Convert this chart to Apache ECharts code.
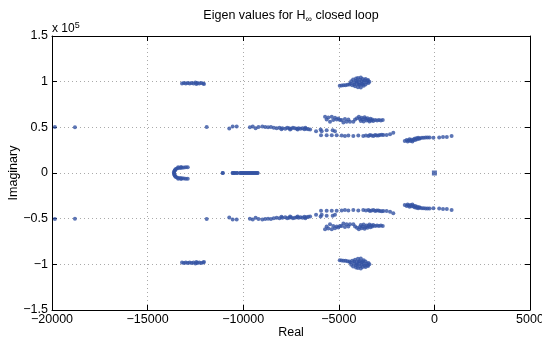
<!DOCTYPE html>
<html>
<head>
<meta charset="utf-8">
<script src="https://cdn.jsdelivr.net/npm/echarts@6/dist/echarts.min.js"></script>
<style>
  html, body { margin: 0; padding: 0; background: #fff; }
  #chart { width: 542px; height: 338px; }
</style>
</head>
<body>
<div id="chart"></div>
<script>
// eigenvalues, upper half only [real, imag]
// (they come in conjugate pairs, lower half is the mirror)
let farLeft = [[-19850, 50500], [-18800, 50000]]

let topLeftBand = [
  [-13200, 98000], [-13100, 98500], [-13000, 98000], [-12900, 98500], [-12800, 98000],
  [-12700, 98500], [-12600, 98000], [-12500, 99000], [-12450, 97500], [-12400, 98500],
  [-12300, 98000], [-12200, 98500], [-12100, 98000], [-12050, 97500]
]

let leftNearZero = [
  [-13620, 800], [-13600, 1800], [-13580, 2800], [-13550, 3800], [-13500, 4600],
  [-13420, 5200], [-13300, 5600], [-13200, 5800], [-13100, 6000], [-13000, 6200],
  [-12900, 6300], [-13400, 6300], [-13250, 6600]
]

let realAxis = [
  [-11070, 0], [-10550, 0], [-10450, 0], [-10320, 0], [-10150, 0], [-10050, 0],
  [-9950, 0], [-9850, 0], [-9750, 0], [-9650, 0], [-9550, 0], [-9450, 0], [-9350, 0], [-9250, 0]
]

let band50 = [
  [-11910, 50500], [-10730, 48700], [-10550, 50900], [-10340, 50900],
  [-9650, 50000], [-9500, 51000], [-9350, 49000], [-9200, 50500], [-9000, 51000],
  [-8850, 50500], [-8700, 50000], [-8550, 50500], [-8400, 49500], [-8250, 49000],
  [-8100, 49500], [-8000, 48000], [-7950, 49000], [-7800, 48500], [-7700, 49500],
  [-7600, 49000], [-7550, 47500], [-7500, 48500], [-7400, 49500], [-7300, 49000],
  [-7200, 48500], [-7150, 47500], [-7100, 49000], [-7000, 48500], [-6900, 49000],
  [-6800, 48000], [-6750, 49500], [-6700, 48500], [-6600, 48000], [-6500, 47500]
]

let band45 = [
  [-6190, 45800], [-5950, 47600], [-5895, 45800], [-5635, 46900], [-5320, 46900], [-5200, 45800],
  [-5930, 41400], [-5635, 41400], [-5370, 41400], [-5110, 41200]
]

let band41 = [
  [-4850, 41000], [-4680, 40500], [-4500, 41000], [-4240, 40500], [-3980, 41000],
  [-3720, 40500], [-3580, 41000], [-3450, 40500], [-3370, 41500], [-3280, 41000],
  [-3190, 40500], [-3100, 41500], [-3020, 41000], [-2930, 41000], [-2850, 41500],
  [-2750, 42000], [-2670, 41500], [-2500, 41500], [-2320, 42500], [-2150, 44000]
]

let band58 = [
  [-5720, 61500], [-5635, 58600], [-5550, 60800], [-5460, 56000], [-5370, 61500],
  [-5290, 57900], [-5200, 60400], [-5110, 58600], [-5025, 59700], [-4940, 57900],
  [-4850, 57900], [-4760, 55300], [-4680, 59000], [-4590, 56000], [-4500, 58600],
  [-4415, 56000], [-4240, 56000], [-4150, 58600],
  [-4050, 60000], [-3950, 61500], [-3900, 59000], [-3850, 57000], [-3800, 60500],
  [-3750, 58500], [-3700, 56500], [-3650, 61000], [-3600, 59500], [-3550, 57500],
  [-3500, 60000], [-3450, 58000], [-3400, 56500], [-3350, 59500], [-3300, 57500],
  [-3250, 58500], [-3200, 57000], [-3100, 58000], [-3000, 57500], [-2900, 58000],
  [-2800, 57500], [-2700, 58000]
]

let top100 = [
  [-4950, 95500], [-4850, 95800], [-4750, 96000], [-4650, 96200], [-4550, 96500], [-4450, 97000],
  [-4400, 98000], [-4350, 100500], [-4300, 96000], [-4250, 102500], [-4200, 99000],
  [-4200, 97000], [-4150, 95000], [-4100, 101000], [-4100, 103500], [-4050, 97500],
  [-4050, 100000], [-4000, 104000], [-4000, 94000], [-3950, 99500], [-3950, 97000],
  [-3900, 102000], [-3900, 96500], [-3850, 93500], [-3850, 104500], [-3800, 100500],
  [-3800, 98000], [-3750, 103000], [-3750, 97000], [-3700, 95500], [-3700, 99500],
  [-3650, 101500], [-3600, 97000], [-3600, 103000], [-3550, 99000], [-3500, 101000],
  [-3450, 98500], [-3400, 100000], [-3470, 101800]
]

let rightCluster = [
  [-1550, 35000], [-1450, 36000], [-1400, 34500], [-1350, 35500], [-1300, 37000],
  [-1250, 35000], [-1200, 36500], [-1150, 34500], [-1100, 36000], [-1050, 37500],
  [-1000, 36000], [-950, 38000], [-900, 37000], [-850, 38500], [-800, 37500],
  [-750, 38000], [-650, 38500], [-550, 38500], [-450, 38800], [-350, 39000],
  [-250, 38800], [-50, 38500], [250, 39000], [450, 39500], [650, 39500], [900, 40500]
]

let originPole = [[0, 0]]

let xTicks = [-20000, -15000, -10000, -5000, 0, 5000]
let yTicks = [-150000, -100000, -50000, 0, 50000, 100000, 150000]

let upper = [].concat(farLeft, topLeftBand, leftNearZero, realAxis, band50, band45,
  band41, band58, top100, rightCluster)
let allPoles = upper.concat(upper.map(p => [p[0], -p[1]]))

let dom = document.getElementById('chart')
let myChart = echarts.init(dom, null, { renderer: 'canvas' })

let font = 'Liberation Sans, Arial, sans-serif'
let fmtX = v => String(v).replace('-', '\u2212')
let fmtY = v => String(v / 1e5).replace('-', '\u2212')

function axisX(pos, show) {
  return {
    type: 'value', position: pos,
    min: xTicks[0], max: xTicks[xTicks.length - 1], interval: 5000,
    axisLine: { show: true, onZero: false, lineStyle: { color: '#000', width: 1 } },
    axisTick: { show: true, inside: true, length: 5, lineStyle: { color: '#000' } },
    axisLabel: { show: show, formatter: fmtX, color: '#000', fontSize: 12.5, fontFamily: font, margin: 3 },
    splitLine: { show: show, lineStyle: { color: '#aaa', type: [1, 3] } }
  }
}
function axisY(pos, show) {
  return {
    type: 'value', position: pos,
    min: yTicks[0], max: yTicks[yTicks.length - 1], interval: 50000,
    axisLine: { show: true, onZero: false, lineStyle: { color: '#000', width: 1 } },
    axisTick: { show: true, inside: true, length: 5, lineStyle: { color: '#000' } },
    axisLabel: { show: show, formatter: fmtY, color: '#000', fontSize: 12.5, fontFamily: font, margin: 4 },
    splitLine: { show: show, lineStyle: { color: '#aaa', type: [1, 3] } }
  }
}

let xMain = axisX('bottom', true)
xMain.name = 'Real'
xMain.nameLocation = 'middle'
xMain.nameGap = 16
xMain.nameMoveOverlap = false
xMain.nameTextStyle = { color: '#000', fontSize: 12.5, fontFamily: font }
let yMain = axisY('left', true)
yMain.name = 'Imaginary'
yMain.nameLocation = 'middle'
yMain.nameGap = 32
yMain.nameMoveOverlap = false
yMain.nameTextStyle = { color: '#000', fontSize: 12.5, fontFamily: font }

let option = {
  animation: false,
  backgroundColor: '#fff',
  grid: { left: 52, right: 12, top: 36, bottom: 28, containLabel: false, outerBoundsMode: 'none' },
  xAxis: [xMain, axisX('top', false)],
  yAxis: [yMain, axisY('right', false)],
  graphic: [
    {
      type: 'text', x: 291, y: 8,
      style: {
        text: 'Eigen values for H{s|\u221e} closed loop',
        textAlign: 'center', fill: '#000', font: '12.5px ' + font,
        rich: { s: { fontSize: 9, padding: [7, 0, 0, 0], fontFamily: font } }
      }
    },
    {
      type: 'text', x: 52, y: 21,
      style: {
        text: 'x 10{p|5}', fill: '#000', font: '12px ' + font,
        rich: { p: { fontSize: 9, padding: [0, 0, 7, 0], fontFamily: font } }
      }
    }
  ],
  series: [
    {
      type: 'scatter', xAxisIndex: 0, yAxisIndex: 0,
      data: allPoles, symbol: 'circle', symbolSize: 4, clip: false, z: 5,
      itemStyle: { color: '#3352a3' }
    },
    {
      type: 'scatter', xAxisIndex: 0, yAxisIndex: 0,
      data: originPole, symbol: 'rect', symbolSize: 5,
      itemStyle: { color: '#3352a3' }
    }
  ]
}

myChart.setOption(option)
window.addEventListener('resize', myChart.resize)
</script>
</body>
</html>
